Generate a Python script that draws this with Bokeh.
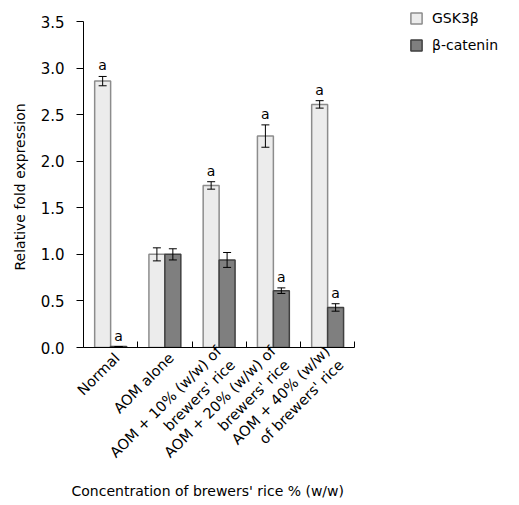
import math
import numpy as np
from bokeh.plotting import figure
from bokeh.models import (ColumnDataSource, Range1d, FixedTicker, PrintfTickFormatter,
                          Whisker, TeeHead, Legend, LegendItem, Title)
from bokeh.core.properties import value
from bokeh.embed import file_html
from bokeh.resources import INLINE

categories = ["Normal", "AOM alone", "AOM + 10% (w/w) of\nbrewers' rice",
              "AOM + 20% (w/w) of\nbrewers' rice", "AOM + 40% (w/w)\nof brewers' rice"]
gsk3b = [2.86, 1.00, 1.74, 2.27, 2.61]
gsk3b_err = [0.05, 0.07, 0.04, 0.12, 0.04]
gsk3b_sig = ["a", "", "a", "a", "a"]
bcat = [0.01, 1.00, 0.94, 0.61, 0.43]
bcat_err = [0.00, 0.06, 0.08, 0.03, 0.04]
bcat_sig = ["a", "", "", "a", "a"]
y_ticks = [0.0, 0.5, 1.0, 1.5, 2.0, 2.5, 3.0, 3.5]
x_title = "Concentration of brewers' rice % (w/w)"
y_title = "Relative fold expression"

FONT = "DejaVu Sans"
BAR_W = 0.294
OFF = 0.147
LABEL_SHIFT = 0.12
N = len(categories)

idx = np.arange(N) + 0.5
src = ColumnDataSource(dict(
    xg=idx - OFF, xb=idx + OFF,
    g=gsk3b, b=bcat,
    gu=np.array(gsk3b) + np.array(gsk3b_err), gl=np.array(gsk3b) - np.array(gsk3b_err),
    bu=np.array(bcat) + np.array(bcat_err), bl=np.array(bcat) - np.array(bcat_err),
    gs=gsk3b_sig, bs=bcat_sig,
))

# frame: x 82..517 px (54.4 px per category), y 0..347 px (0..3.5 over 326 px)
p = figure(width=517, height=503, output_backend="svg", toolbar_location=None,
           x_range=Range1d(0, 8.0), y_range=Range1d(0, 3.5 * 347 / 326),
           min_border_left=82, min_border_right=0, min_border_top=0, min_border_bottom=156)
p.outline_line_color = None
p.xgrid.visible = False
p.ygrid.visible = False

rg = p.vbar(x='xg', top='g', width=BAR_W, source=src, fill_color="#ececec",
            line_color="#8c8c8c", line_width=1.5)
rb = p.vbar(x='xb', top='b', width=BAR_W, source=src, fill_color="#7f7f7f",
            line_color="#404040", line_width=1.5)

for base, up, lo in (("xg", "gu", "gl"), ("xb", "bu", "bl")):
    w = Whisker(base=base, upper=up, lower=lo, source=src, line_color="black", line_width=1,
                upper_head=TeeHead(size=8, line_color="black", line_width=1),
                lower_head=TeeHead(size=8, line_color="black", line_width=1),
                level="annotation")
    p.add_layout(w)

for xc, yc, tc in (("xg", "gu", "gs"), ("xb", "bu", "bs")):
    p.text(x=xc, y=yc, text=tc, source=src, text_align="center", text_baseline="bottom",
           y_offset=-3, text_font=value(FONT), text_font_size="14px", text_color="black")

# x axis
label_pos = idx + LABEL_SHIFT
xa = p.xaxis[0]
xa.bounds = (0, N)
xa.ticker = FixedTicker(ticks=list(label_pos), minor_ticks=list(range(N + 1)))
xa.major_label_overrides = {float(v): c for v, c in zip(label_pos, categories)}
xa.major_label_orientation = math.pi / 4
xa.major_tick_in = 0
xa.major_tick_out = 0
xa.minor_tick_in = 6
xa.minor_tick_out = 0
xa.major_label_text_font = FONT
xa.major_label_text_font_size = "14.5px"
xa.major_label_text_color = "black"
xa.major_label_standoff = 8
xa.axis_line_color = "black"

# y axis
ya = p.yaxis[0]
ya.bounds = (0, 3.5)
ya.ticker = FixedTicker(ticks=y_ticks, minor_ticks=[])
ya.formatter = PrintfTickFormatter(format="%.1f")
ya.major_tick_in = 0
ya.major_tick_out = 7
ya.major_label_standoff = 12
ya.major_label_text_font = FONT
ya.major_label_text_font_size = "15px"
ya.major_label_text_color = "black"
ya.axis_line_color = "black"

p.add_layout(Title(text=x_title, align="left", vertical_align="top", offset=-12, standoff=-14,
                   text_font=FONT, text_font_size="14px", text_font_style="normal",
                   text_color="black"), "below")
p.add_layout(Title(text=y_title, align="left", offset=77, standoff=19,
                   text_font=FONT, text_font_size="14px", text_font_style="normal",
                   text_color="black"), "left")

legend = Legend(items=[LegendItem(label="GSK3β", renderers=[rg]),
                       LegendItem(label="β-catenin", renderers=[rb])],
                location=(326, 292), padding=0, margin=0, spacing=7,
                glyph_width=14, glyph_height=14, label_height=20, label_standoff=9,
                label_text_font=FONT, label_text_font_size="14px", label_text_color="black",
                border_line_color=None, background_fill_alpha=0)
p.add_layout(legend, "center")

open("out.html", "w").write(file_html(p, INLINE))
